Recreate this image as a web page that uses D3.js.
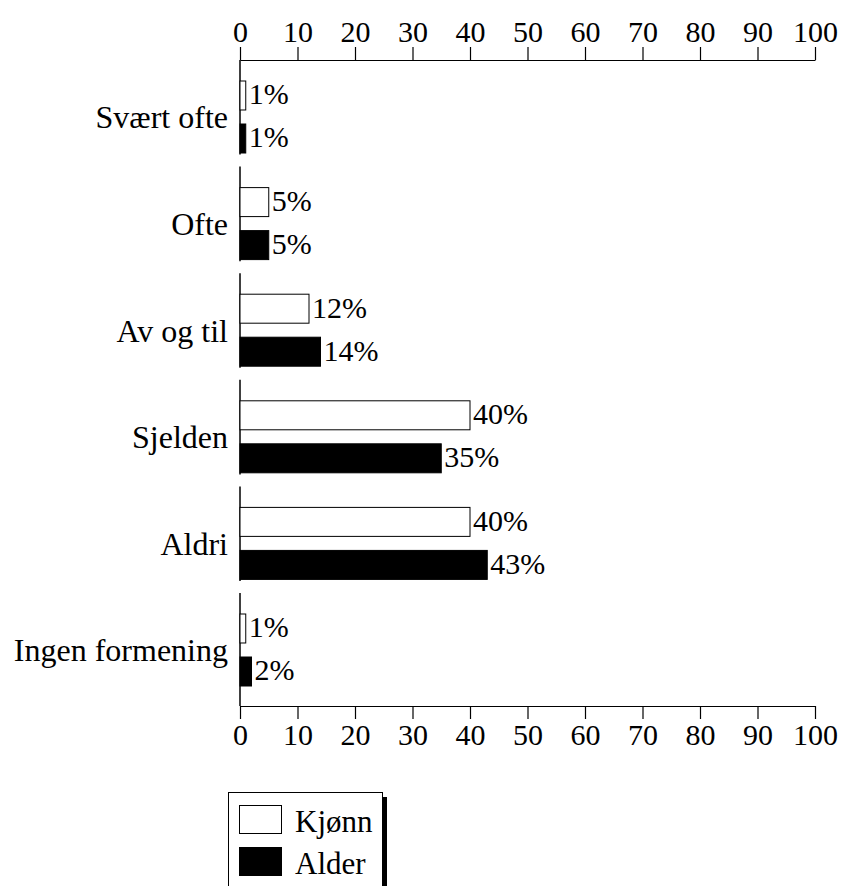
<!DOCTYPE html>
<html>
<head>
<meta charset="utf-8">
<script src="https://cdn.jsdelivr.net/npm/d3@7"></script>
<style>
  body { margin: 0; background: #fff; }
</style>
</head>
<body>
<svg id="chart" width="841" height="886" font-family="Liberation Serif"></svg>
<script>
// chart data
const aCategories = ['Svært ofte', 'Ofte', 'Av og til', 'Sjelden', 'Aldri', 'Ingen formening'];
const aSeries = ['Kjønn', 'Alder'];
const aKjonn = [1, 5, 12, 40, 40, 1];
const aAlder = [1, 5, 14, 35, 43, 2];
const aTicks = [0, 10, 20, 30, 40, 50, 60, 70, 80, 90, 100];

const aValues = [aKjonn, aAlder];
const aFills = ['#fff', '#000'];
const sFont = 'Liberation Serif';

const oSvg = d3.select('#chart');
const iLeft = 240, iRight = 815, iTop = 60, iBottom = 706;

const oX = d3.scaleLinear().domain([0, 100]).range([iLeft, iRight]);
const oY = d3.scaleBand().domain(aCategories).range([iTop, 699.6]);
const oInner = d3.scaleBand().domain(aSeries).range([21, 93]).paddingInner(0.326);

// Top and bottom axes
const fnStyleAxis = (g) => {
  g.attr('font-family', sFont);
  g.selectAll('path, line').attr('stroke', '#000').attr('stroke-width', 1.2);
  g.selectAll('text').attr('font-size', 30).attr('fill', '#000');
};
oSvg.append('g')
  .attr('transform', `translate(0,${iTop})`)
  .call(d3.axisTop(oX).tickValues(aTicks).tickSize(13).tickSizeOuter(0).tickPadding(5))
  .call(fnStyleAxis);
oSvg.append('g')
  .attr('transform', `translate(0,${iBottom})`)
  .call(d3.axisBottom(oX).tickValues(aTicks).tickSize(13).tickSizeOuter(0).tickPadding(5))
  .call(fnStyleAxis);

// Groups: broken left axis, bars and labels
const oGroups = oSvg.selectAll('g.group')
  .data(aCategories)
  .enter()
  .append('g')
  .attr('class', 'group')
  .attr('transform', d => `translate(0,${oY(d)})`);

oGroups.append('line')
  .attr('x1', iLeft).attr('x2', iLeft)
  .attr('y1', 0)
  .attr('y2', (d, i) => (i === aCategories.length - 1 ? iBottom - oY(d) : oY.bandwidth() - 12))
  .attr('stroke', '#000')
  .attr('stroke-width', 1.5);

oGroups.append('text')
  .attr('x', 228)
  .attr('y', 61)
  .attr('text-anchor', 'end')
  .attr('dominant-baseline', 'middle')
  .attr('font-size', 32)
  .text(d => d);

aSeries.forEach((sName, iS) => {
  oGroups.append('rect')
    .attr('x', iLeft)
    .attr('y', oInner(sName))
    .attr('width', (d, i) => oX(aValues[iS][i]) - iLeft)
    .attr('height', oInner.bandwidth())
    .attr('fill', aFills[iS])
    .attr('stroke', '#000')
    .attr('stroke-width', 1);

  oGroups.append('text')
    .attr('x', (d, i) => oX(aValues[iS][i]) + 3)
    .attr('y', oInner(sName) + oInner.bandwidth() / 2 + 2)
    .attr('dominant-baseline', 'middle')
    .attr('font-size', 30)
    .text((d, i) => `${aValues[iS][i]}%`);
});

// Legend
const oKey = oSvg.append('g');
oKey.append('rect')
  .attr('x', 383).attr('y', 797).attr('width', 4).attr('height', 100)
  .attr('fill', '#000');
oKey.append('rect')
  .attr('x', 228.5).attr('y', 792.5).attr('width', 154).attr('height', 110)
  .attr('fill', '#fff').attr('stroke', '#000').attr('stroke-width', 1);
aSeries.forEach((sName, iS) => {
  oKey.append('rect')
    .attr('x', 239.5).attr('y', 805.5 + iS * 42).attr('width', 42).attr('height', 28)
    .attr('fill', aFills[iS]).attr('stroke', '#000').attr('stroke-width', 1);
  oKey.append('text')
    .attr('x', 295).attr('y', 825 + iS * 42)
    .attr('dominant-baseline', 'middle')
    .attr('font-size', 31)
    .text(sName);
});

// one plain family name on every text
oSvg.selectAll('text').attr('font-family', sFont);
</script>
</body>
</html>
